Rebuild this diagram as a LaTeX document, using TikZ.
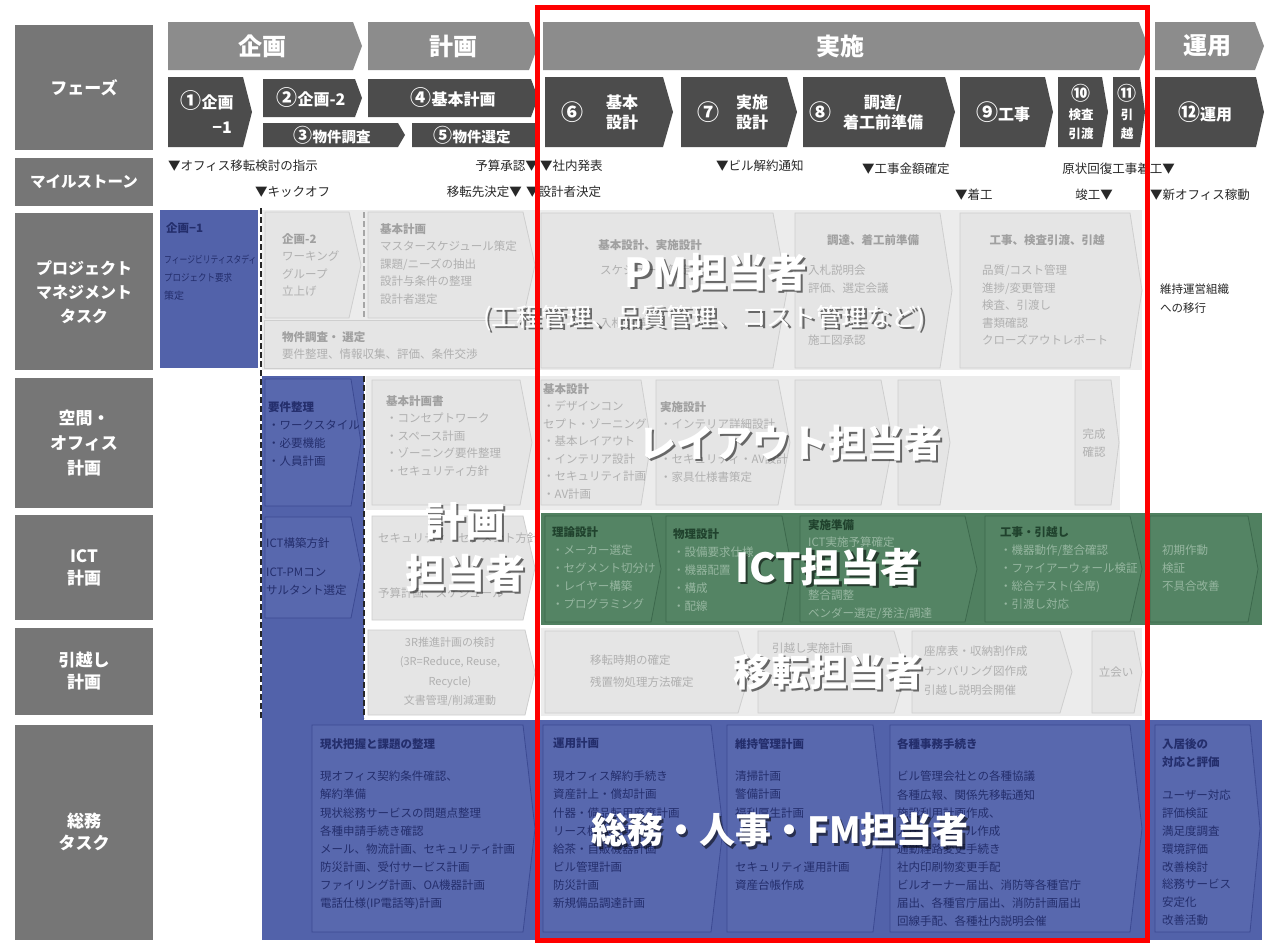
\documentclass[tikz,border=0pt]{standalone}
\usepackage{fontspec}
\setmainfont{Noto Sans CJK JP}
\definecolor{lblgray}{RGB}{118,118,118}
\definecolor{phgray}{RGB}{140,140,140}
\definecolor{subgray}{RGB}{76,76,76}
\definecolor{panel}{RGB}{236,236,236}
\definecolor{inbox}{RGB}{229,229,229}
\definecolor{inedge}{RGB}{206,206,206}
\definecolor{fade}{RGB}{176,176,176}
\definecolor{fadehd}{RGB}{160,160,160}
\definecolor{blu}{RGB}{82,98,170}
\definecolor{bluin}{RGB}{88,104,174}
\definecolor{bluedge}{RGB}{60,74,146}
\definecolor{blutxt}{RGB}{36,46,108}
\definecolor{grn}{RGB}{80,128,96}
\definecolor{grnin}{RGB}{84,132,100}
\definecolor{grnedge}{RGB}{60,104,76}
\definecolor{grntxt}{RGB}{150,182,160}
\definecolor{grnhd}{RGB}{32,66,45}
\definecolor{msk}{RGB}{40,40,40}
\newcommand\chevbox[6]{\path[#1] (#2,#3) -- ({#4-#6},#3) -- (#4,{(#3+#5)/2}) -- ({#4-#6},#5) -- (#2,#5) -- cycle;}
\newcommand\ovl[5]{%
  \node[ovs] (#1s) at ({#2+2.5},{#3+2.5}) {\fontsize{#4}{#4}\selectfont #5};
  \node[ovt] (#1) at (#2,#3) {\fontsize{#4}{#4}\selectfont #5};}
\newcommand\cnum[2]{{\fontsize{#1}{#1}\selectfont #2}}
\tikzset{
  ph/.style={text=white,inner sep=0pt,font=\fontsize{24}{24}\selectfont\bfseries},
  sub/.style={text=white,inner sep=0pt,align=center,font=\fontsize{16}{20}\selectfont\bfseries},
  lbt/.style={text=white,inner sep=0pt,align=center,font=\fontsize{17}{22}\selectfont\bfseries},
  ms/.style={text=msk,inner sep=0pt,font=\fontsize{12.5}{13}\selectfont},
  gt/.style={text=fade,inner sep=0pt,anchor=north west,align=left,font=\fontsize{11.5}{17.5}\selectfont},
  gh/.style={text=fadehd,inner sep=0pt,font=\fontsize{11.5}{17.5}\selectfont\bfseries},
  bt/.style={text=blutxt,inner sep=0pt,anchor=north west,align=left,font=\fontsize{11.5}{18.1}\selectfont},
  gnt/.style={text=grntxt,inner sep=0pt,anchor=north west,align=left,font=\fontsize{11.5}{18}\selectfont},
  gbox/.style={fill=inbox,draw=inedge,line width=0.8},
  bbox/.style={fill=bluin,draw=bluedge,line width=0.8},
  nbox/.style={fill=grnin,draw=grnedge,line width=0.8},
  ovs/.style={text=black,opacity=0.55,inner sep=0pt,align=center},
  ovt/.style={text=white,inner sep=0pt,align=center},
  sep/.style={line width=2,dash pattern=on 6pt off 3pt}
}
\begin{document}
\begin{tikzpicture}[x=1pt,y=-1pt]
\useasboundingbox (0,0) rectangle (1272,946);
\fill[white] (0,0) rectangle (1272,946);

% ---------- left labels
\fill[lblgray] (15,25) rectangle (153,150);
\node[lbt] (Lphase) at (84,88) {フェーズ};
\fill[lblgray] (15,158) rectangle (153,206);
\node[lbt,font=\fontsize{15.5}{20}\selectfont\bfseries] (Lmile) at (84,182) {マイルストーン};
\fill[lblgray] (15,213) rectangle (153,370);
\node[lbt,font=\fontsize{16}{24}\selectfont\bfseries] (Lpm) at (84,292) {プロジェクト\\マネジメント\\タスク};
\fill[lblgray] (15,378) rectangle (153,508);
\node[lbt,font=\fontsize{17}{25}\selectfont\bfseries] (Lspace) at (84,443) {空間・\\オフィス\\計画};
\fill[lblgray] (15,515) rectangle (153,620);
\node[lbt] (Lict) at (84,568) {ICT\\計画};
\fill[lblgray] (15,628) rectangle (153,715);
\node[lbt] (Lmove) at (84,671) {引越し\\計画};
\fill[lblgray] (15,725) rectangle (153,940);
\node[lbt] (Lga) at (84,832) {総務\\タスク};

% ---------- phase headers
\chevbox{fill=phgray}{168}{22}{362}{70}{9}
\node[ph] (pA) at (262,46) {企画};
\chevbox{fill=phgray}{368}{22}{538}{70}{9}
\node[ph] (pB) at (453,46) {計画};
\chevbox{fill=phgray}{543}{22}{1148}{70}{9}
\node[ph] (pC) at (840,46) {実施};
\chevbox{fill=phgray}{1155}{22}{1264}{70}{9}
\node[ph] (pD) at (1207,46) {運用};

% ---------- sub phases
\chevbox{fill=subgray}{168}{77}{252}{147}{9}
\node[sub] (s1a) at (207,101) {\cnum{21}{①}企画};
\node[sub] (s1b) at (222,128) {−1};
\chevbox{fill=subgray}{263}{79}{362}{117}{7}
\node[sub] (s2) at (311,98) {\cnum{21}{②}企画-2};
\chevbox{fill=subgray}{368}{79}{538}{117}{7}
\node[sub] (s4) at (453,98) {\cnum{21}{④}基本計画};
\chevbox{fill=subgray}{263}{123}{405}{147}{7}
\node[sub,font=\fontsize{14.5}{15}\selectfont\bfseries] (s3) at (332,135) {\cnum{19}{③}物件調査};
\chevbox{fill=subgray}{412}{123}{538}{147}{0}
\node[sub,font=\fontsize{14.5}{15}\selectfont\bfseries] (s5) at (472,135) {\cnum{19}{⑤}物件選定};
\chevbox{fill=subgray}{545}{77}{673}{147}{10}
\node[sub] (s6n) at (572,112) {\cnum{22}{⑥}};
\node[sub] (s6) at (622,112) {基本\\設計};
\chevbox{fill=subgray}{681}{77}{797}{147}{10}
\node[sub] (s7n) at (708,112) {\cnum{22}{⑦}};
\node[sub] (s7) at (752,112) {実施\\設計};
\chevbox{fill=subgray}{803}{77}{955}{147}{10}
\node[sub] (s8n) at (820,112) {\cnum{22}{⑧}};
\node[sub] (s8) at (883,112) {調達/\\着工前準備};
\chevbox{fill=subgray}{960}{77}{1053}{147}{8}
\node[sub] (s9) at (1003,112) {\cnum{22}{⑨}工事};
\chevbox{fill=subgray}{1058}{77}{1108}{147}{6}
\node[sub,font=\fontsize{12.5}{19}\selectfont\bfseries] (s10) at (1081,112) {\cnum{19}{⑩}\\検査\\引渡};
\chevbox{fill=subgray}{1113}{77}{1145}{147}{5}
\node[sub,font=\fontsize{12.5}{19}\selectfont\bfseries] (s11) at (1127,112) {\cnum{19}{⑪}\\引\\越};
\chevbox{fill=subgray}{1155}{77}{1264}{147}{8}
\node[sub] (s12) at (1205,112) {\cnum{22}{⑫}運用};

% ---------- milestones
\node[ms,anchor=west] (m1) at (168,166) {▼オフィス移転検討の指示};
\node[ms,anchor=east] (m2) at (538,166) {予算承認▼};
\node[ms,anchor=west] (m3) at (540,166) {▼社内発表};
\node[ms,anchor=west] (m4) at (716,166) {▼ビル解約通知};
\node[ms,anchor=west] (m5) at (862,169) {▼工事金額確定};
\node[ms,anchor=east] (m6) at (1175,169) {原状回復工事着工▼};
\node[ms,anchor=west] (m7) at (255,192) {▼キックオフ};
\node[ms,anchor=east] (m8) at (522,192) {移転先決定▼};
\node[ms,anchor=west] (m9) at (526,192) {▼設計者決定};
\node[ms,anchor=west] (m10) at (955,195) {▼着工};
\node[ms,anchor=east] (m11) at (1113,195) {竣工▼};
\node[ms,anchor=west] (m12) at (1150,195) {▼新オフィス稼動};

% ---------- PM row
\fill[blu] (160,210) rectangle (258,368);
\node[bt,font=\fontsize{11.5}{18}\selectfont\bfseries] (pm1h) at (166,222) {企画−1};
\node[bt,font=\fontsize{10}{18}\selectfont] (pm1t) at (164,255) {\scalebox{0.78}[1]{フィージビリティスタディ}\\\scalebox{0.85}[1]{プロジェクト要求}\\策定};
\fill[panel] (262,210) rectangle (1142,370);
\chevbox{gbox}{265}{212}{361}{318}{12}
\node[gt] (pm2) at (282,233) {{\bfseries\color{fadehd}企画-2}\\ワーキング\\グループ\\立上げ};
\chevbox{gbox}{368}{212}{535}{318}{12}
\node[gt] (pm4) at (380,223) {{\bfseries\color{fadehd}基本計画}\\マスタースケジュール策定\\課題/ニーズの抽出\\設計与条件の整理\\設計者選定};
\path[gbox] (264,320) rectangle (535,368);
\node[gt] (pm35) at (282,331) {{\bfseries\color{fadehd}物件調査・ 選定}\\要件整理、情報収集、評価、条件交渉};
\chevbox{gbox}{541}{213}{787}{368}{14}
\node[gh] (pm6h) at (650,245) {基本設計、実施設計};
\node[gt] (pm6t) at (600,265) {スケジュール策定\\ \mbox{}\\ \mbox{}\\入札準備};
\chevbox{gbox}{795}{213}{952}{368}{12}
\node[gh] (pm8h) at (873,240) {調達、着工前準備};
\node[gt] (pm8t) at (808,265) {入札説明会\\評価、選定会議\\ \mbox{}\\ \mbox{}\\施工図承認};
\chevbox{gbox}{960}{213}{1142}{368}{12}
\node[gh] (pm9h) at (1047,240) {工事、検査引渡、引越};
\node[gt] (pm9t) at (982,265) {品質/コスト管理\\進捗/変更管理\\検査、引渡し\\書類確認\\クローズアウトレポート};
\node[bt,text=msk,font=\fontsize{11.5}{19}\selectfont] (pm12) at (1160,284) {維持運営組織\\への移行};

% ---------- blue column
\fill[blu] (262,376) rectangle (364,720);
\chevbox{bbox}{265}{379}{361}{506}{10}
\node[bt] (sp1) at (268,401) {{\bfseries 要件整理}\\・ワークスタイル\\・必要機能\\・人員計画};
\chevbox{bbox}{265}{517}{361}{618}{10}
\node[bt] (ic1) at (266,538) {ICT構築方針};
\node[bt] (ic2) at (266,568) {ICT-PMコン\\サルタント選定};

% ---------- space row
\fill[panel] (366,376) rectangle (1120,510);
\chevbox{gbox}{372}{380}{532}{505}{12}
\node[gt] (sp2) at (386,395) {{\bfseries\color{fadehd}基本計画書}\\・コンセプトワーク\\・スペース計画\\・ゾーニング要件整理\\・セキュリティ方針};
\chevbox{gbox}{541}{380}{651}{505}{10}
\node[gt] (sp3) at (543,383) {{\bfseries\color{fadehd}基本設計}\\・デザインコン\\セプト・ゾーニング\\・基本レイアウト\\・インテリア設計\\・セキュリティ計画\\・AV計画};
\chevbox{gbox}{656}{380}{790}{505}{12}
\node[gt] (sp4) at (660,401) {{\bfseries\color{fadehd}実施設計}\\・インテリア詳細設計\\ \mbox{}\\・セキュリティ・AV設計\\・家具仕様書策定};
\chevbox{gbox}{795}{380}{893}{505}{12}
\chevbox{gbox}{898}{380}{950}{505}{10}
\chevbox{gbox}{1075}{380}{1119}{505}{8}
\node[gt,anchor=center,align=center] (sp7) at (1094,443) {完成\\確認};

% ---------- ICT row
\chevbox{gbox}{372}{516}{535}{620}{12}
\node[gt] (ic3) at (378,533) {セキュリティ・セグメント方針};
\node[gt] (ic4) at (378,588) {予算計画、スケジュール};
\fill[grn] (541,513) rectangle (1262,625);
\chevbox{nbox}{545}{516}{661}{622}{10}
\node[gnt] (ic5) at (552,526) {{\bfseries\color{grnhd}理論設計}\\・メーカー選定\\・セグメント切分け\\・レイヤー構築\\・プログラミング};
\chevbox{nbox}{666}{516}{792}{622}{10}
\node[gnt] (ic6) at (673,528) {{\bfseries\color{grnhd}物理設計}\\・設備要求仕様\\・機器配置\\・構成\\・配線};
\chevbox{nbox}{800}{516}{977}{622}{12}
\node[gnt,font=\fontsize{11.5}{17.6}\selectfont] (ic7) at (808,519) {{\bfseries\color{grnhd}実施準備}\\ICT実施予算確定\\ \mbox{}\\ \mbox{}\\整合調整\\ベンダー選定/発注/調達};
\chevbox{nbox}{985}{516}{1142}{622}{12}
\node[gnt] (ic8) at (1000,526) {{\bfseries\color{grnhd}工事・引越し}\\・機器動作/整合確認\\・ファイアーウォール検証\\・総合テスト(全席)\\・引渡し対応};
\chevbox{nbox}{1150}{516}{1258}{622}{10}
\node[gnt] (ic9) at (1162,545) {初期作動\\検証\\不具合改善};

% ---------- moving row
\chevbox{gbox}{368}{630}{535}{715}{10}
\node[gt,anchor=center,align=center,font=\fontsize{11}{19.5}\selectfont] (mv1) at (450,672) {3R推進計画の検討\\(3R=Reduce, Reuse,\\Recycle)\\文書管理/削減運動};
\fill[panel] (541,628) rectangle (1142,716);
\chevbox{gbox}{545}{631}{750}{713}{12}
\node[gt,font=\fontsize{11.5}{22}\selectfont] (mv2) at (590,655) {移転時期の確定\\残置物処理方法確定};
\chevbox{gbox}{758}{631}{906}{713}{12}
\node[gt] (mv3) at (772,643) {引越し実施計画};
\chevbox{gbox}{912}{631}{1072}{713}{12}
\node[gt,font=\fontsize{11.5}{19.5}\selectfont] (mv4) at (924,646) {座席表・収納割作成\\ナンバリング図作成\\引越し説明会開催};
\chevbox{gbox}{1092}{631}{1142}{713}{8}
\node[gt,anchor=center] (mv5) at (1116,672) {立会い};

% ---------- general affairs row
\fill[blu] (262,720) rectangle (1262,940);
\chevbox{bbox}{312}{725}{535}{932}{12}
\node[bt,font=\fontsize{11.5}{18}\selectfont\bfseries] (ga1h) at (320,738) {現状把握と課題の整理};
\node[bt] (ga1) at (320,771) {現オフィス契約条件確認、\\解約準備\\現状総務サービスの問題点整理\\各種申請手続き確認\\メール、物流計画、セキュリティ計画\\防災計画、受付サービス計画\\ファイリング計画、OA機器計画\\電話仕様(IP電話等)計画};
\chevbox{bbox}{543}{725}{723}{932}{12}
\node[bt,font=\fontsize{11.5}{18}\selectfont\bfseries] (ga2h) at (553,738) {運用計画};
\node[bt] (ga2) at (553,771) {現オフィス解約手続き\\資産計上・償却計画\\什器・備品転用廃棄計画\\リース機器計画\\給茶・自販機器計画\\ビル管理計画\\防災計画\\新規備品調達計画};
\chevbox{bbox}{727}{725}{885}{932}{12}
\node[bt,font=\fontsize{11.5}{18}\selectfont\bfseries] (ga3h) at (735,738) {維持管理計画};
\node[bt] (ga3) at (735,771) {清掃計画\\警備計画\\福利厚生計画\\ \mbox{}\\ \mbox{}\\セキュリティ運用計画\\資産台帳作成};
\chevbox{bbox}{890}{725}{1142}{932}{12}
\node[bt,font=\fontsize{11.5}{18}\selectfont\bfseries] (ga4h) at (897,738) {各種事務手続き};
\node[bt] (ga4) at (897,771) {ビル管理会社との各種協議\\各種広報、関係先移転通知\\施設利用計画作成、\\入居マニュアル作成\\通勤経路変更手続き\\社内印刷物変更手配\\ビルオーナー届出、消防等各種官庁\\届出、各種官庁届出、消防計画届出\\回線手配、各種社内説明会催};
\chevbox{bbox}{1155}{725}{1260}{932}{10}
\node[bt,font=\fontsize{11.5}{18.5}\selectfont\bfseries] (ga5h) at (1162,738) {入居後の\\対応と評価};
\node[bt,font=\fontsize{11.5}{17.8}\selectfont] (ga5) at (1162,790) {ユーザー対応\\評価検証\\満足度調査\\環境評価\\改善検討\\総務サービス\\安定化\\改善活動};

% ---------- dashed separators
\draw[sep,black!85] (261,208) -- (261,720);
\draw[sep,black!85] (364,376) -- (364,718);
\draw[sep,black!35] (364,212) -- (364,318);

% ---------- overlays
\ovl{oPM}{716}{272}{40}{\bfseries PM担当者}
\ovl{oPMs}{704}{318}{25}{(工程管理、品質管理、コスト管理など)}
\ovl{oLay}{790}{443}{38}{\bfseries レイアウト担当者}
\ovl{oPl1}{465}{521}{40}{\bfseries 計画}
\ovl{oPl2}{465}{573}{40}{\bfseries 担当者}
\ovl{oICT}{828}{567}{40}{\bfseries ICT担当者}
\ovl{oMov}{828}{672}{38}{\bfseries 移転担当者}
\ovl{oGA}{780}{830}{36}{\bfseries 総務・人事・FM担当者}

% ---------- red frame
\draw[red,line width=5] (537,7) rectangle (1147,940);
\end{tikzpicture}
\end{document}
